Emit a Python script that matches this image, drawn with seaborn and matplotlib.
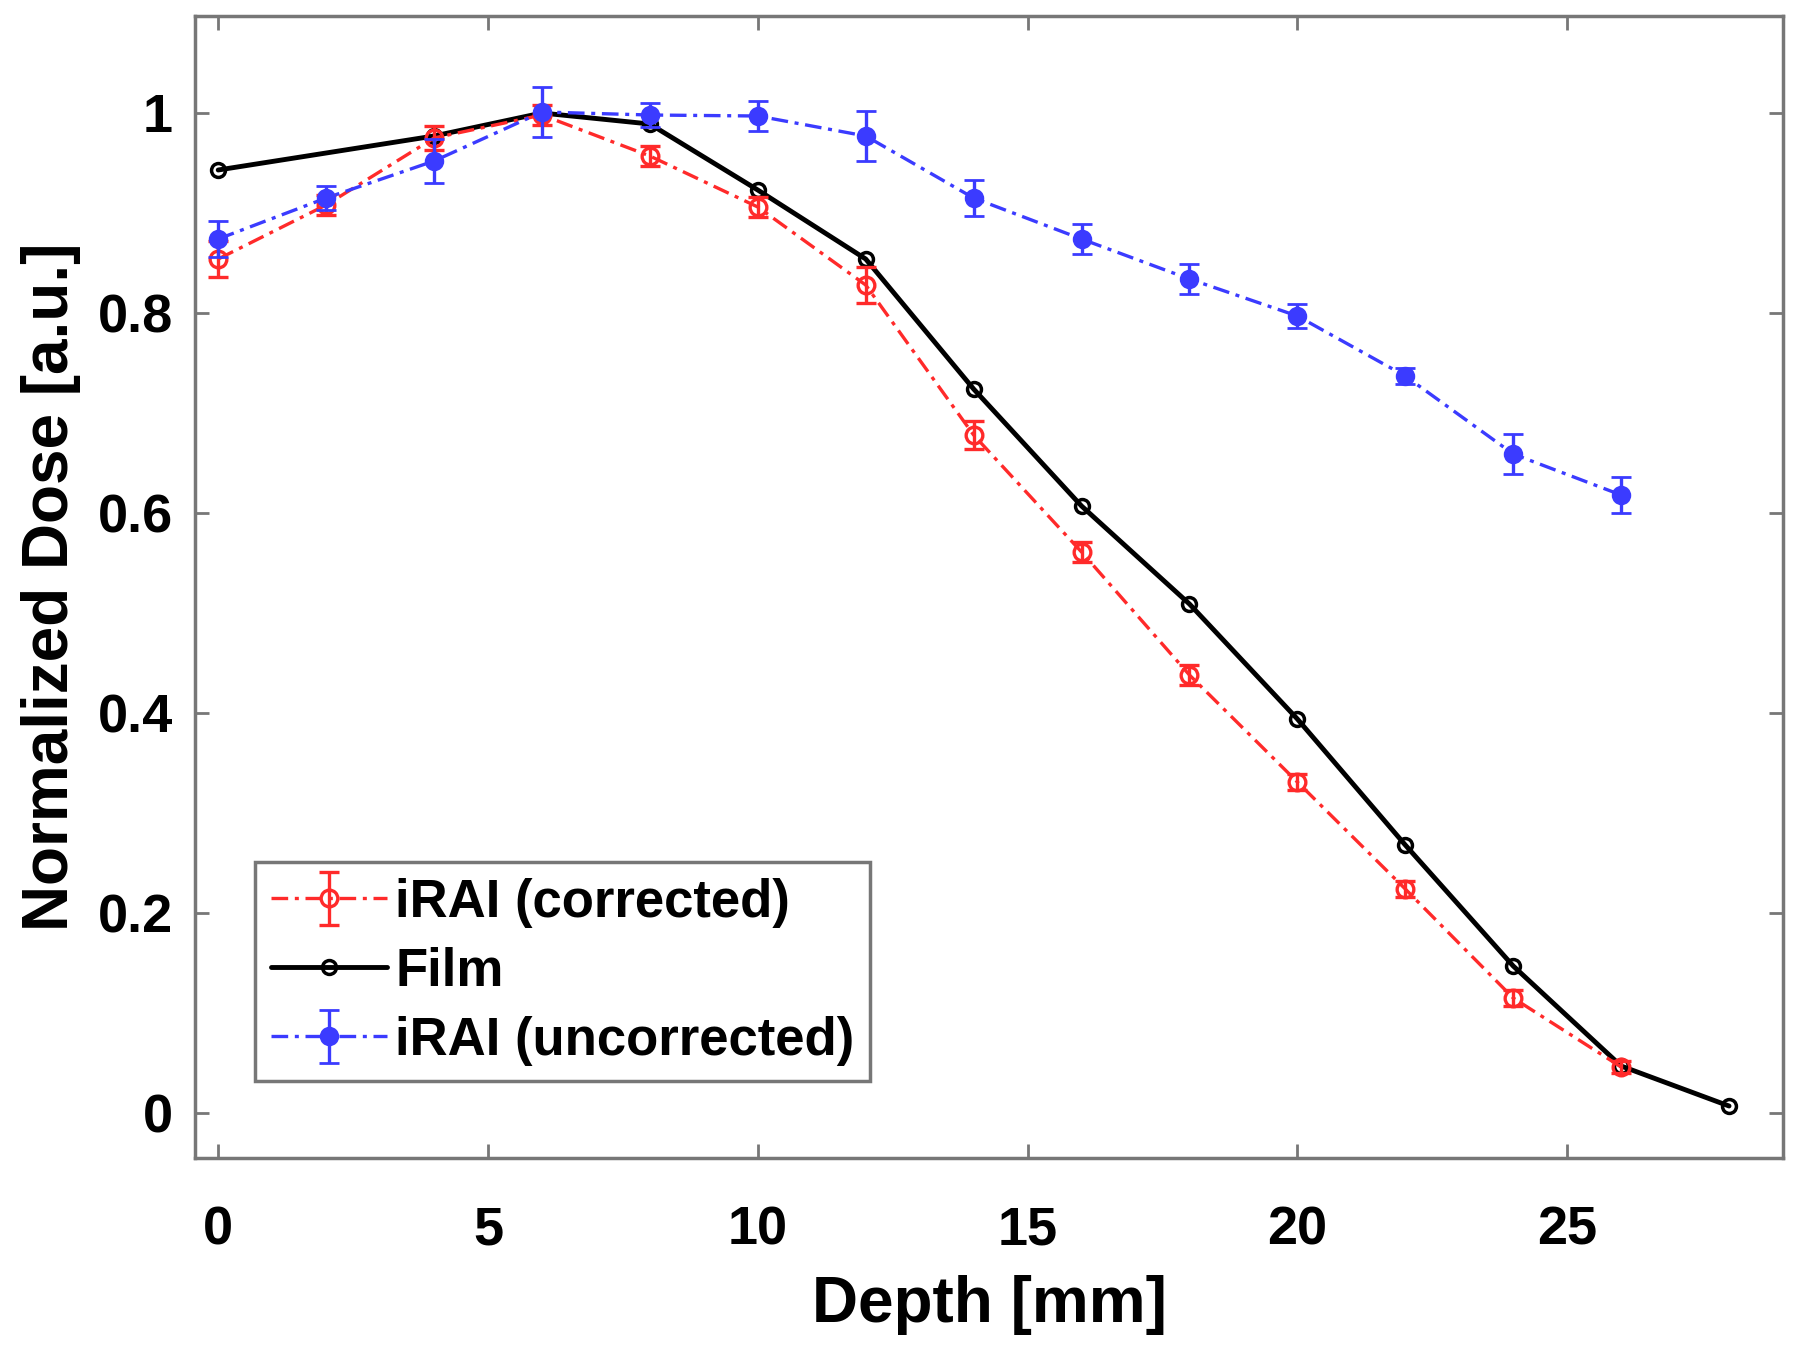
import numpy as np
import matplotlib
matplotlib.use("Agg")
from matplotlib import pyplot as plt
from matplotlib.ticker import FuncFormatter
import seaborn as sns

# depth [mm]
depth_iral = [0, 2, 4, 6, 8, 10, 12, 14, 16, 18, 20, 22, 24, 26]
depth_film = [0, 4, 6, 8, 10, 12, 14, 16, 18, 20, 22, 24, 26, 28]

corrected = [0.854, 0.908, 0.975, 0.998, 0.957, 0.906, 0.828, 0.678, 0.561, 0.438, 0.331, 0.224, 0.115, 0.046]
corrected_err = [0.018, 0.010, 0.012, 0.010, 0.010, 0.010, 0.018, 0.014, 0.010, 0.010, 0.008, 0.008, 0.008, 0.006]

film = [0.943, 0.977, 1.000, 0.989, 0.923, 0.854, 0.724, 0.607, 0.509, 0.394, 0.268, 0.147, 0.047, 0.007]

uncorrected = [0.874, 0.915, 0.952, 1.001, 0.998, 0.997, 0.977, 0.915, 0.874, 0.834, 0.797, 0.737, 0.659, 0.618]
uncorrected_err = [0.018, 0.012, 0.022, 0.025, 0.012, 0.015, 0.025, 0.018, 0.015, 0.015, 0.012, 0.008, 0.020, 0.018]

sns.set_theme(style="ticks")
plt.rcParams['font.family'] = ['Liberation Sans', 'DejaVu Sans']
plt.rcParams['font.weight'] = 'bold'
plt.rcParams['text.color'] = 'black'
plt.rcParams['axes.labelcolor'] = 'black'
plt.rcParams['xtick.labelcolor'] = 'black'
plt.rcParams['ytick.labelcolor'] = 'black'

my_dpi = 100
fig = plt.figure(figsize=(1800 / my_dpi, 1350 / my_dpi), dpi=my_dpi)
ax = fig.add_axes([195 / 1800, 1 - 1158 / 1350, 1588 / 1800, 1142 / 1350])

red = '#ff2a2a'
blue = '#3b3bff'
dashdot = (0, (5, 2, 1.2, 2))

h_corr = ax.errorbar(depth_iral, corrected, yerr=corrected_err, color=red, linestyle=dashdot, lw=2.4,
                     marker='o', markersize=12, markerfacecolor='none', markeredgewidth=2.4,
                     capsize=7, elinewidth=2.4, capthick=2.4, zorder=3, label='iRAI (corrected)')
sns.lineplot(x=depth_film, y=film, ax=ax, color='black', lw=3.5, marker='o', markersize=10,
             markerfacecolor='none', markeredgecolor='black', markeredgewidth=2.5, zorder=2,
             label='Film', legend=False)
h_unc = ax.errorbar(depth_iral, uncorrected, yerr=uncorrected_err, color=blue, linestyle=dashdot, lw=2.4,
                    marker='o', markersize=12, markerfacecolor=blue, markeredgewidth=2,
                    capsize=7, elinewidth=2.4, capthick=2.4, zorder=4, label='iRAI (uncorrected)')
h_film = ax.get_lines()[[l.get_label() for l in ax.get_lines()].index('Film')]

ax.set_xlim(-0.43, 29.0)
ax.set_ylim(-0.045, 1.097)
ax.set_xticks([0, 5, 10, 15, 20, 25])
ax.set_yticks([0, 0.2, 0.4, 0.6, 0.8, 1.0])
ax.yaxis.set_major_formatter(FuncFormatter(lambda v, p: f'{v:g}'))

ax.tick_params(direction='in', length=10, width=2, color='#777777', top=True, right=True,
               labelsize=39, pad=16, labelcolor='black')
ax.tick_params(axis='x', pad=34)
for s in ax.spines.values():
    s.set_color('#777777')
    s.set_linewidth(2.5)
for t in ax.get_xticklabels() + ax.get_yticklabels():
    t.set_fontweight('bold')

ax.set_xlabel('Depth [mm]', fontsize=46, fontweight='bold', labelpad=14, color='black')
ax.set_ylabel('Normalized Dose [a.u.]', fontsize=46, fontweight='bold', labelpad=12, color='black')

leg = ax.legend([h_corr, h_film, h_unc], ['iRAI (corrected)', 'Film', 'iRAI (uncorrected)'],
                loc='lower left', bbox_to_anchor=(0.038, 0.067), borderaxespad=0,
                handlelength=2.2, handletextpad=0.15, labelspacing=0.36,
                borderpad=0.3, fancybox=False, framealpha=1, edgecolor='#777777',
                prop={'weight': 'bold', 'size': 38})
leg.get_frame().set_linewidth(2.5)
for t in leg.get_texts():
    t.set_color('black')

plt.savefig('out.png', dpi=my_dpi)
